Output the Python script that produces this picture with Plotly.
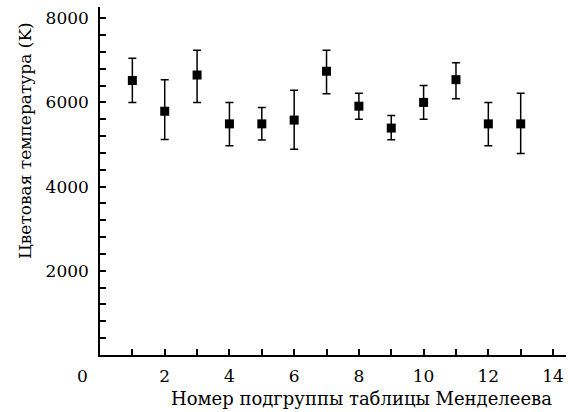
import plotly.graph_objects as go

# Colour temperature by periodic-table subgroup, with error bars
subgroup = [1, 2, 3, 4, 5, 6, 7, 8, 9, 10, 11, 12, 13]
temperature = [6520, 5790, 6650, 5490, 5490, 5580, 6740, 5910, 5390, 6000, 6540, 5490, 5490]
err_plus = [530, 750, 590, 510, 390, 710, 500, 310, 300, 400, 400, 510, 730]
err_minus = [520, 670, 650, 520, 385, 690, 535, 310, 280, 400, 455, 520, 705]

x_ticks = [2, 4, 6, 8, 10, 12, 14]
y_ticks = [2000, 4000, 6000, 8000]

FONT = "DejaVu Serif"
FS_TICK = 17

fig = go.Figure()
fig.add_trace(go.Scatter(
    x=subgroup,
    y=temperature,
    mode="markers",
    marker=dict(symbol="square", size=9, color="black"),
    error_y=dict(
        type="data",
        symmetric=False,
        array=err_plus,
        arrayminus=err_minus,
        color="black",
        thickness=1.5,
        width=4,
    ),
    showlegend=False,
))

axis_common = dict(
    showgrid=False,
    zeroline=False,
    showline=True,
    linecolor="black",
    linewidth=1.5,
    ticks="inside",
    ticklen=6,
    tickwidth=1.5,
    tickcolor="black",
    tickfont=dict(family=FONT, size=FS_TICK, color="black"),
)

fig.update_xaxes(
    range=[0, 14.4],
    tickmode="array",
    tickvals=x_ticks,
    ticktext=[str(v) for v in x_ticks],
    ticklabelstandoff=5,
    minor=dict(dtick=1, tick0=0, ticks="inside", ticklen=6, tickwidth=1.5, tickcolor="black"),
    **axis_common,
)
fig.update_yaxes(
    range=[0, 8266],
    tickmode="array",
    tickvals=y_ticks,
    ticktext=[str(v) for v in y_ticks],
    ticklabelstandoff=6,
    minor=dict(dtick=400, tick0=0, ticks="inside", ticklen=6, tickwidth=1.5, tickcolor="black"),
    **axis_common,
)

W, H = 568, 412
L, R, T, B = 99.5, 2, 7, 57
fig.update_layout(
    width=W,
    height=H,
    margin=dict(l=L, r=R, t=T, b=B, pad=0),
    paper_bgcolor="white",
    plot_bgcolor="white",
    font=dict(family=FONT, color="black"),
)

pw = W - L - R
ph = H - T - B


def px_x(px):
    return (px - L) / pw


def px_y(py):
    return 1 - (py - T) / ph


annotations = [
    # shared origin label at the corner
    dict(text="0", x=px_x(82), y=px_y(375.5), xanchor="center", yanchor="middle",
         font=dict(family=FONT, size=FS_TICK, color="black")),
    dict(text="Номер подгруппы таблицы Менделеева", x=px_x(554), y=px_y(398),
         xanchor="right", yanchor="middle",
         font=dict(family=FONT, size=18, color="black")),
    dict(text="Цветовая температура (K)", x=px_x(24), y=px_y(20),
         xanchor="center", yanchor="top", textangle=-90,
         font=dict(family=FONT, size=17, color="black")),
]
for a in annotations:
    a.update(xref="paper", yref="paper", showarrow=False)
fig.update_layout(annotations=annotations)

fig.write_html("out.html")
